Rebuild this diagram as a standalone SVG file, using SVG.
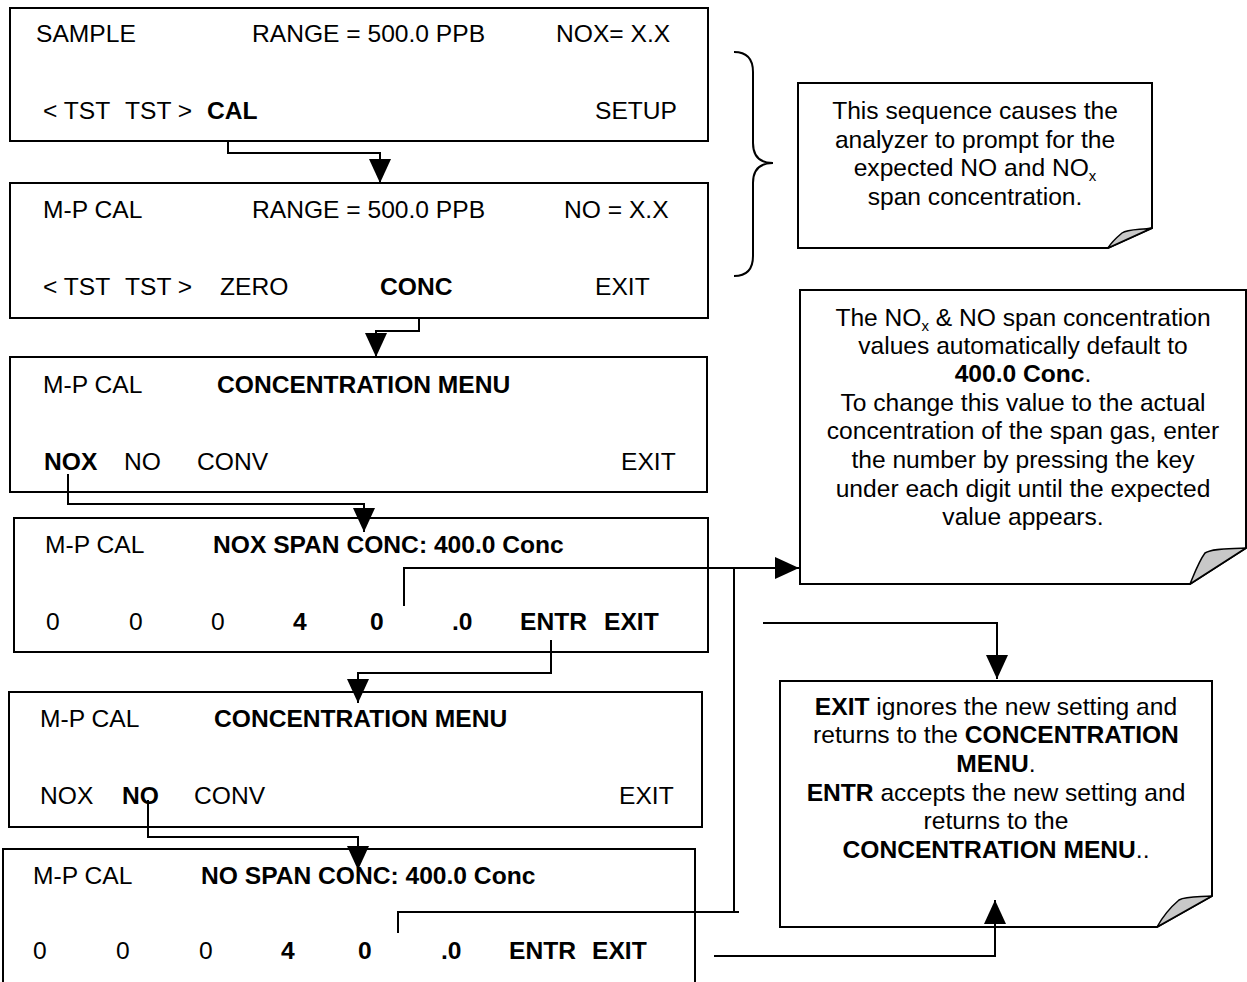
<svg xmlns="http://www.w3.org/2000/svg" width="1247" height="982" viewBox="0 0 1247 982">
<style>
.box{fill:#fff;stroke:#000;stroke-width:2}
.t{font-family:"Liberation Sans",Arial,sans-serif;font-size:24.6px;fill:#000}
.b{font-weight:bold}
.m{text-anchor:middle}
.c{fill:none;stroke:#000;stroke-width:2}
.curl{fill:#c8c8c8;stroke:#000;stroke-width:1.5;stroke-linejoin:round}
</style>
<defs>
<marker id="ah" viewBox="0 0 24 22" refX="24" refY="11" markerWidth="24" markerHeight="22" markerUnits="userSpaceOnUse" orient="auto">
<path d="M0,0 L24,11 L0,22 Z" fill="#000"/>
</marker>
</defs>
<rect width="1247" height="982" fill="#fff"/>

<g id="box1">
<rect class="box" x="10" y="8" width="698" height="133"/>
<text class="t" x="36" y="42">SAMPLE</text>
<text class="t" x="252" y="42">RANGE = 500.0 PPB</text>
<text class="t" x="556" y="42">NOX= X.X</text>
<text class="t" x="43" y="119">&lt; TST</text>
<text class="t" x="125" y="119">TST &gt;</text>
<text class="t b" x="207" y="119">CAL</text>
<text class="t" x="595" y="119">SETUP</text>
</g>

<g id="box2">
<rect class="box" x="10" y="183" width="698" height="135"/>
<text class="t" x="43" y="218">M-P CAL</text>
<text class="t" x="252" y="218">RANGE = 500.0 PPB</text>
<text class="t" x="564" y="218">NO = X.X</text>
<text class="t" x="43" y="295">&lt; TST</text>
<text class="t" x="125" y="295">TST &gt;</text>
<text class="t" x="220" y="295">ZERO</text>
<text class="t b" x="380" y="295">CONC</text>
<text class="t" x="595" y="295">EXIT</text>
</g>

<g id="box3">
<rect class="box" x="10" y="357" width="697" height="135"/>
<text class="t" x="43" y="393">M-P CAL</text>
<text class="t b" x="217" y="393">CONCENTRATION MENU</text>
<text class="t b" x="44" y="470">NOX</text>
<text class="t" x="124" y="470">NO</text>
<text class="t" x="197" y="470">CONV</text>
<text class="t" x="621" y="470">EXIT</text>
</g>

<g id="box4">
<rect class="box" x="14" y="518" width="694" height="134"/>
<text class="t" x="45" y="553">M-P CAL</text>
<text class="t b" x="213" y="553">NOX SPAN CONC: 400.0 Conc</text>
<text class="t" x="46" y="630">0</text>
<text class="t" x="129" y="630">0</text>
<text class="t" x="211" y="630">0</text>
<text class="t b" x="293" y="630">4</text>
<text class="t b" x="370" y="630">0</text>
<text class="t b" x="452" y="630">.0</text>
<text class="t b" x="520" y="630">ENTR</text>
<text class="t b" x="604" y="630">EXIT</text>
</g>

<g id="box5">
<rect class="box" x="9" y="692" width="693" height="135"/>
<text class="t" x="40" y="727">M-P CAL</text>
<text class="t b" x="214" y="727">CONCENTRATION MENU</text>
<text class="t" x="40" y="804">NOX</text>
<text class="t b" x="122" y="804">NO</text>
<text class="t" x="194" y="804">CONV</text>
<text class="t" x="619" y="804">EXIT</text>
</g>

<g id="box6">
<rect class="box" x="3" y="849" width="692" height="150"/>
<text class="t" x="33" y="884">M-P CAL</text>
<text class="t b" x="201" y="884">NO SPAN CONC: 400.0 Conc</text>
<text class="t" x="33" y="959">0</text>
<text class="t" x="116" y="959">0</text>
<text class="t" x="199" y="959">0</text>
<text class="t b" x="281" y="959">4</text>
<text class="t b" x="358" y="959">0</text>
<text class="t b" x="441" y="959">.0</text>
<text class="t b" x="509" y="959">ENTR</text>
<text class="t b" x="592" y="959">EXIT</text>
</g>

<g id="brace">
<path class="c" d="M734,52 Q753,52 753,72 V143 Q753,163 773,163 Q753,163 753,183 V256 Q753,276 734,276"/>
</g>

<g id="note1">
<path class="box" d="M798,83 H1152 V228 L1108,248 H798 Z"/>
<path class="curl" d="M1108,248 L1152,228 C1140,230 1128,229 1122,233 C1116,238 1111,243 1108,248 Z"/>
<text class="t m" x="975" y="119">This sequence causes the</text>
<text class="t m" x="975" y="147.5">analyzer to prompt for the</text>
<text class="t m" x="975" y="176">expected NO and NO<tspan font-size="15" dy="5">x</tspan></text>
<text class="t m" x="975" y="204.5">span concentration.</text>
</g>

<g id="note2">
<path class="box" d="M800,290 H1246 V548 L1190,584 H800 Z"/>
<path class="curl" d="M1190,584 L1246,548 C1230,549 1213,548 1205,553 C1199,561 1195,572 1190,584 Z"/>
<text class="t m" x="1023" y="326">The NO<tspan font-size="15" dy="5">x</tspan><tspan dy="-5"> &amp; NO span concentration</tspan></text>
<text class="t m" x="1023" y="354">values automatically default to</text>
<text class="t m" x="1023" y="382"><tspan class="b">400.0 Conc</tspan>.</text>
<text class="t m" x="1023" y="411">To change this value to the actual</text>
<text class="t m" x="1023" y="439">concentration of the span gas, enter</text>
<text class="t m" x="1023" y="468">the number by pressing the key</text>
<text class="t m" x="1023" y="497">under each digit until the expected</text>
<text class="t m" x="1023" y="525">value appears.</text>
</g>

<g id="note3">
<path class="box" d="M780,681 H1212 V896 L1157,927 H780 Z"/>
<path class="curl" d="M1157,927 L1212,896 C1198,897 1186,896 1179,900 C1172,906 1163,916 1157,927 Z"/>
<text class="t m" x="996" y="715"><tspan class="b">EXIT</tspan> ignores the new setting and</text>
<text class="t m" x="996" y="743">returns to the <tspan class="b">CONCENTRATION</tspan></text>
<text class="t m" x="996" y="772"><tspan class="b">MENU</tspan>.</text>
<text class="t m" x="996" y="801"><tspan class="b">ENTR</tspan> accepts the new setting and</text>
<text class="t m" x="996" y="829">returns to the</text>
<text class="t m" x="996" y="858"><tspan class="b">CONCENTRATION MENU</tspan>..</text>
</g>

<g id="connectors">
<path class="c" marker-end="url(#ah)" d="M228,141 V153 H380 V183"/>
<path class="c" marker-end="url(#ah)" d="M419,318 V331 H376 V357"/>
<path class="c" marker-end="url(#ah)" d="M68,474 V504 H364 V532"/>
<path class="c" marker-end="url(#ah)" d="M551,640 V673 H358 V703"/>
<path class="c" marker-end="url(#ah)" d="M148,800 V837 H358 V870"/>
<path class="c" marker-end="url(#ah)" d="M404,606 V568 H799"/>
<path class="c" d="M734,568 V912"/>
<path class="c" d="M398,933 V912 H739"/>
<path class="c" marker-end="url(#ah)" d="M763,623 H997 V679"/>
<path class="c" marker-end="url(#ah)" d="M714,956 H995 V900"/>
</g>
</svg>
